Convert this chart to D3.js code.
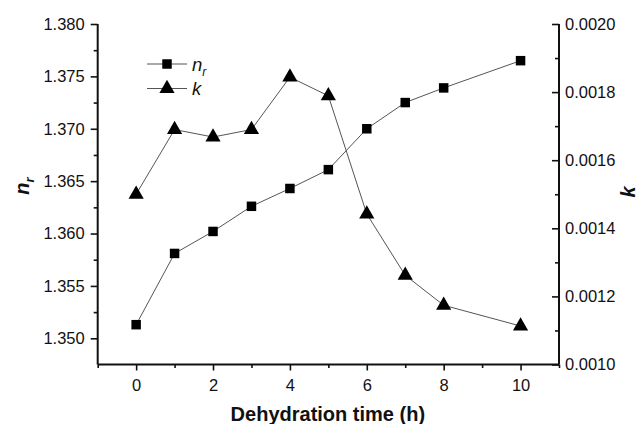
<!DOCTYPE html>
<html>
<head>
<meta charset="utf-8">
<script src="https://cdn.jsdelivr.net/npm/d3@7"></script>
<style>
  body { margin: 0; background: #fff; }
  text { font-family: "Liberation Sans", Arial, sans-serif; fill: #111; }
</style>
</head>
<body>
<div id="chart"></div>
<script>
// dehydration time (h)
var hours = [0, 1, 2, 3, 4, 5, 6, 7, 8, 10];
// refractive index n_r
var nrValues = [1.3513, 1.3581, 1.3602, 1.3626, 1.3643, 1.3661, 1.3700, 1.3725, 1.3739, 1.3765];
// extinction coefficient k
var kValues = [0.00150, 0.00169, 0.001668, 0.00169, 0.001844, 0.001789, 0.001442, 0.001262, 0.001174, 0.001113];

var xTickLabels = [0, 2, 4, 6, 8, 10];
var nrTicks = [1.350, 1.355, 1.360, 1.365, 1.370, 1.375, 1.380];
var kTicks = [0.0010, 0.0012, 0.0014, 0.0016, 0.0018, 0.0020];

var width = 642, height = 424;
var margin = {top: 24, right: 83, bottom: 59.5, left: 97.7};

var svg = d3.select("#chart").append("svg")
    .attr("width", width)
    .attr("height", height);

var x = d3.scaleLinear()
    .domain([-1, 11])
    .range([margin.left, width - margin.right]);

var yLeft = d3.scaleLinear()
    .domain([1.3475, 1.380])
    .range([height - margin.bottom, margin.top]);

var yRight = d3.scaleLinear()
    .domain([0.0010, 0.0020])
    .range([height - margin.bottom, margin.top]);

var tickFont = "16.5px";
var axisColor = "#111";

// x axis: major ticks with labels, minor ticks at odd hours
var xAxis = svg.append("g")
    .attr("transform", "translate(0," + (height - margin.bottom) + ")")
    .call(d3.axisBottom(x).tickValues(xTickLabels).tickSize(6).tickPadding(9).tickFormat(d3.format("d")));
svg.append("g")
    .attr("transform", "translate(0," + (height - margin.bottom) + ")")
    .call(d3.axisBottom(x).tickValues(d3.range(-1, 12, 2)).tickSize(3.5).tickFormat(""))
    .select(".domain").remove();

// left axis
var leftAxis = svg.append("g")
    .attr("transform", "translate(" + margin.left + ",0)")
    .call(d3.axisLeft(yLeft).tickValues(nrTicks).tickSize(7).tickPadding(6).tickFormat(d3.format(".3f")));
svg.append("g")
    .attr("transform", "translate(" + margin.left + ",0)")
    .call(d3.axisLeft(yLeft).tickValues(nrTicks.slice(0, -1).map(function (d) { return d + 0.0025; })).tickSize(4).tickFormat(""))
    .select(".domain").remove();

// right axis, ticks pointing inward
var rightAxis = svg.append("g")
    .attr("transform", "translate(" + (width - margin.right) + ",0)")
    .call(d3.axisRight(yRight).tickValues(kTicks).tickSize(-7).tickPadding(6).tickFormat(d3.format(".4f")));
svg.append("g")
    .attr("transform", "translate(" + (width - margin.right) + ",0)")
    .call(d3.axisRight(yRight).tickValues(kTicks.slice(0, -1).map(function (d) { return d + 0.0001; })).tickSize(-4).tickFormat(""))
    .select(".domain").remove();
rightAxis.selectAll(".tick text").attr("x", 6);

svg.selectAll(".domain").attr("stroke", axisColor).attr("stroke-width", 2);
svg.selectAll(".tick line").attr("stroke", axisColor).attr("stroke-width", 1.6);
svg.selectAll(".tick text")
    .style("font-family", "'Liberation Sans', Arial, sans-serif")
    .style("font-size", tickFont)
    .attr("fill", "#111");
// keep the domain paths flat (no outer ticks)
xAxis.select(".domain").attr("d", "M" + x.range()[0] + ",0H" + x.range()[1]);
leftAxis.select(".domain").attr("d", "M0," + yLeft.range()[0] + "V" + yLeft.range()[1]);
rightAxis.select(".domain").attr("d", "M0," + yRight.range()[0] + "V" + yRight.range()[1]);

var lineColor = "#555";

// n_r series
var nrData = hours.map(function (h, i) { return [h, nrValues[i]]; });
svg.append("path")
    .datum(nrData)
    .attr("fill", "none")
    .attr("stroke", lineColor)
    .attr("stroke-width", 1)
    .attr("d", d3.line().x(function (d) { return x(d[0]); }).y(function (d) { return yLeft(d[1]); }));

// k series
var kData = hours.map(function (h, i) { return [h, kValues[i]]; });
svg.append("path")
    .datum(kData)
    .attr("fill", "none")
    .attr("stroke", lineColor)
    .attr("stroke-width", 1)
    .attr("d", d3.line().x(function (d) { return x(d[0]); }).y(function (d) { return yRight(d[1]); }));

var square = d3.symbol().type(d3.symbolSquare).size(90);
var triangle = d3.symbol().type(d3.symbolTriangle).size(100);

svg.selectAll(".sq")
    .data(nrData)
    .join("path")
    .attr("class", "sq")
    .attr("transform", function (d) { return "translate(" + x(d[0]) + "," + yLeft(d[1]) + ")"; })
    .attr("d", square)
    .attr("fill", "#000");

svg.selectAll(".tri")
    .data(kData)
    .join("path")
    .attr("class", "tri")
    .attr("transform", function (d) { return "translate(" + x(d[0]) + "," + yRight(d[1]) + ")"; })
    .attr("d", triangle)
    .attr("fill", "#000");

// legend
var legend = svg.append("g").attr("transform", "translate(147,64)");
var legendRows = [
    {sym: square, label: "n", sub: "r"},
    {sym: triangle, label: "k", sub: ""}
];
legendRows.forEach(function (r, i) {
    var row = legend.append("g").attr("transform", "translate(0," + (i * 24.5) + ")");
    row.append("line").attr("x1", 0).attr("x2", 40).attr("y1", 0).attr("y2", 0)
        .attr("stroke", lineColor).attr("stroke-width", 1);
    row.append("path").attr("d", r.sym).attr("transform", "translate(20,0)").attr("fill", "#000");
    var t = row.append("text").attr("x", 45).attr("y", 6.5)
        .style("font-size", "18.5px").style("font-style", "italic");
    t.append("tspan").text(r.label);
    if (r.sub) t.append("tspan").attr("dy", 5).style("font-size", "12px").text(r.sub);
});

// axis titles
svg.append("text")
    .attr("x", (x(-1) + x(11)) / 2 - 0.5)
    .attr("y", 421)
    .attr("text-anchor", "middle")
    .style("font-size", "20px")
    .style("font-weight", "bold")
    .text("Dehydration time (h)");

var nrTitle = svg.append("text")
    .attr("transform", "translate(29,186) rotate(-90)")
    .attr("text-anchor", "middle")
    .style("font-size", "20px")
    .style("font-weight", "bold")
    .style("font-style", "italic");
nrTitle.append("tspan").text("n");
nrTitle.append("tspan").attr("dy", 5).style("font-size", "13px").text("r");

svg.append("text")
    .attr("transform", "translate(635,192) rotate(-90)")
    .attr("text-anchor", "middle")
    .style("font-size", "20px")
    .style("font-weight", "bold")
    .style("font-style", "italic")
    .text("k");
</script>
</body>
</html>
